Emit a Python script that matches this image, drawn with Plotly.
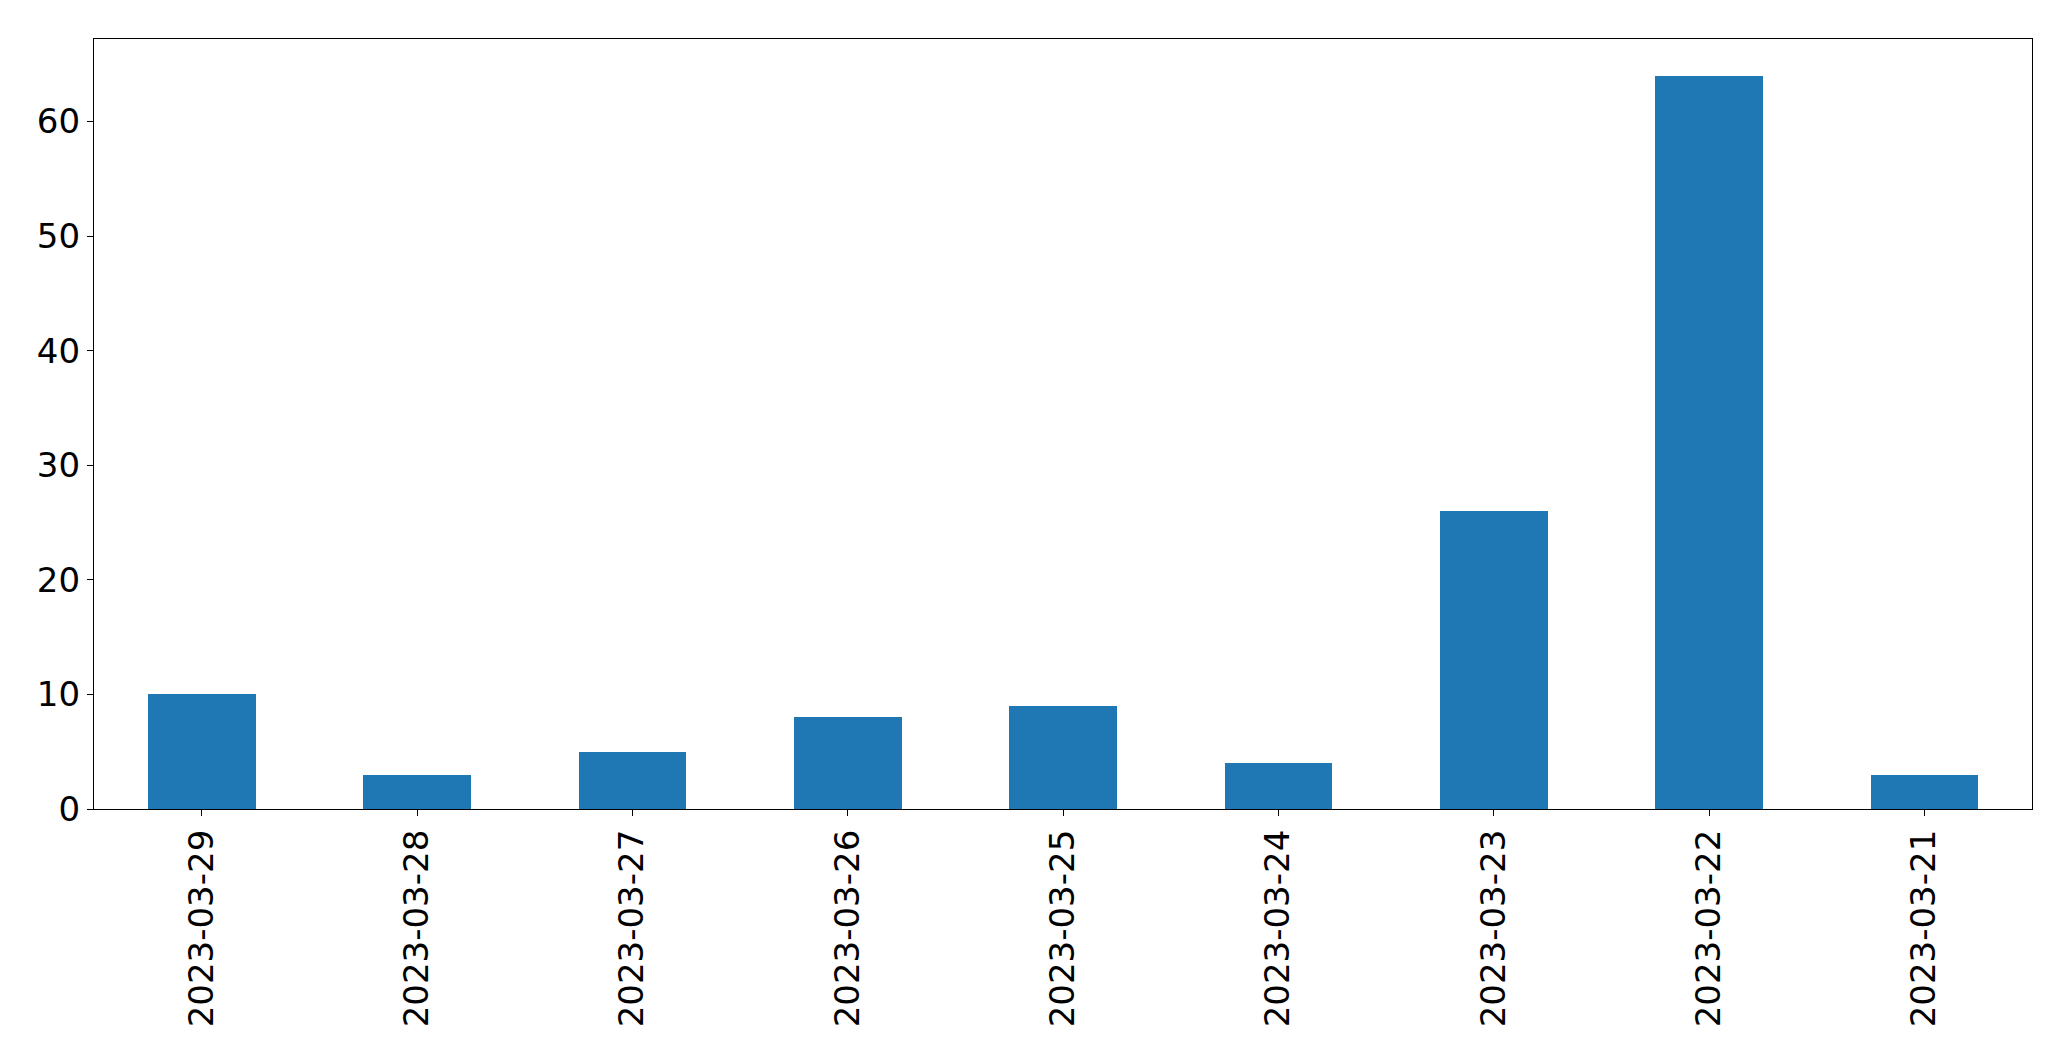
import plotly.graph_objects as go

dates = ["2023-03-29", "2023-03-28", "2023-03-27", "2023-03-26", "2023-03-25",
         "2023-03-24", "2023-03-23", "2023-03-22", "2023-03-21"]
counts = [10, 3, 5, 8, 9, 4, 26, 64, 3]
ytick_vals = [0, 10, 20, 30, 40, 50, 60]

fig = go.Figure(go.Bar(x=dates, y=counts, width=0.5, marker_color="#1f77b4",
                       marker_line_width=0))

fig.update_layout(
    width=2071, height=1061,
    margin=dict(l=94, r=39, t=39, b=252),
    paper_bgcolor="white", plot_bgcolor="white",
    font=dict(family="DejaVu Sans", size=34, color="black"),
    showlegend=False,
    bargap=0,
)
fig.update_xaxes(type="category", range=[-0.5, len(dates) - 0.5],
                 tickangle=-90, ticks="outside", ticklen=6, tickwidth=1.3,
                 tickcolor="black", showline=True, linecolor="black",
                 linewidth=1.3, mirror=True, showgrid=False, zeroline=False)
fig.update_yaxes(range=[0, max(counts) * 1.05], tickvals=ytick_vals,
                 ticks="outside", ticklen=6, tickwidth=1.3, tickcolor="black",
                 showline=True, linecolor="black", linewidth=1.3, mirror=True,
                 showgrid=False, zeroline=False)

fig.write_html("out.html", config={"displayModeBar": False},
               post_script="document.body.style.margin='0px';document.body.style.overflow='hidden';")
